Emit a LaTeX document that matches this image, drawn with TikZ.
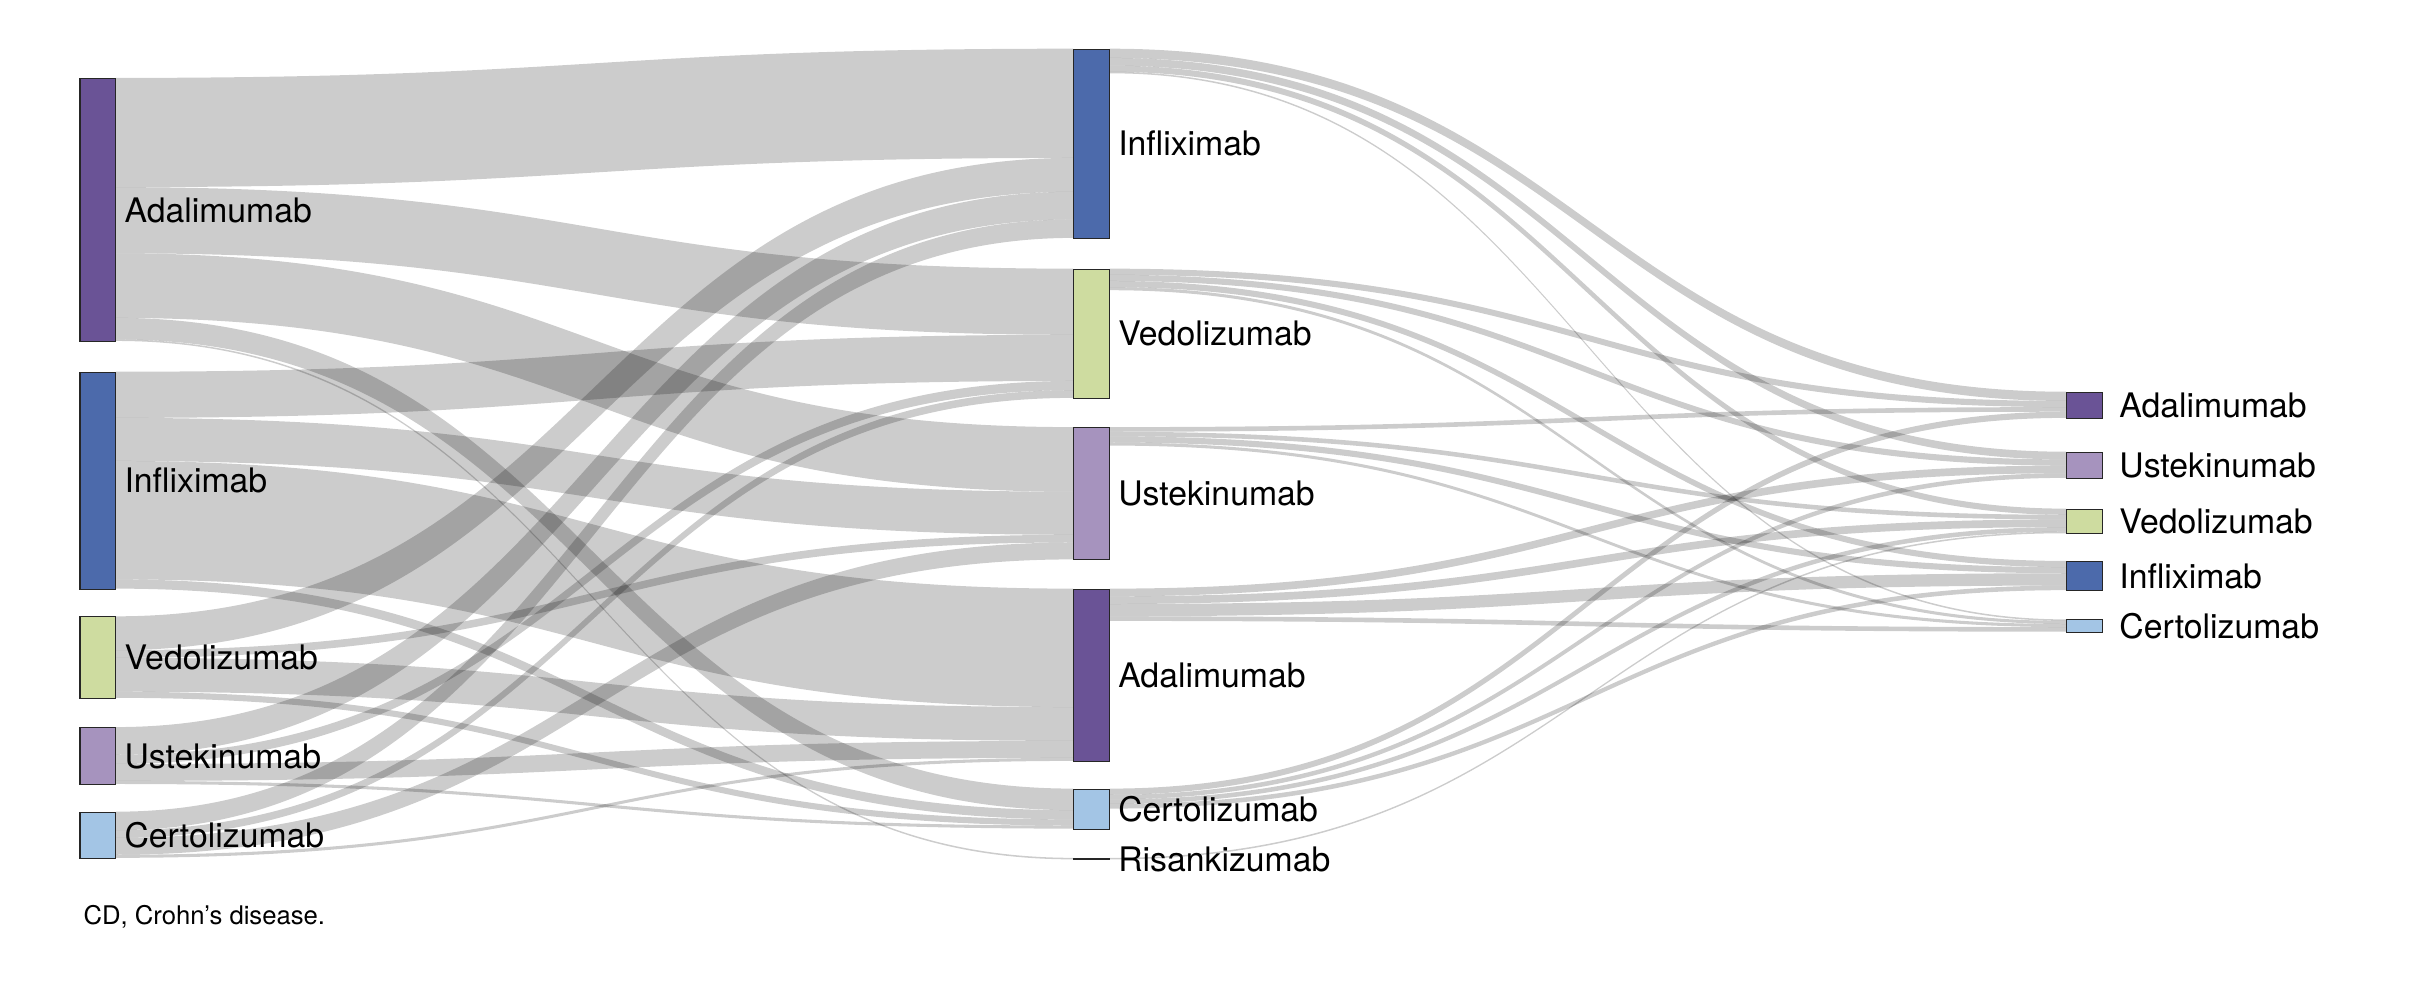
\documentclass[tikz,border=0pt]{standalone}
\usepackage{fontspec}
\setmainfont{TeX Gyre Heros}
\usetikzlibrary{positioning,calc}
\definecolor{ada}{HTML}{6A5396}
\definecolor{inf}{HTML}{4C6AAB}
\definecolor{ved}{HTML}{CEDCA0}
\definecolor{ust}{HTML}{A693BE}
\definecolor{cer}{HTML}{A3C5E5}
\pgfdeclarelayer{bg}
\pgfsetlayers{bg,main}
\def\initoff#1{\expandafter\gdef\csname out#1\endcsname{0}\expandafter\gdef\csname in#1\endcsname{0}}
\newcommand\flow[3]{%
  \pgfmathsetmacro\so{\csname out#1\endcsname}%
  \pgfmathsetmacro\ti{\csname in#2\endcsname}%
  \path (#1.north east) ++(0,-\so) coordinate (fs);
  \path (#2.north west) ++(0,-\ti) coordinate (ft);
  \begin{pgfonlayer}{bg}
  \fill[band] (fs) .. controls +(311,0) and +(-311,0) .. (ft) -- ++(0,-#3)
    .. controls +(-311,0) and +(311,0) .. ($(fs)+(0,-#3)$) -- cycle;
  \end{pgfonlayer}
  \pgfmathsetmacro\so{\so+#3}\expandafter\xdef\csname out#1\endcsname{\so}%
  \pgfmathsetmacro\ti{\ti+#3}\expandafter\xdef\csname in#2\endcsname{\ti}%
}
\begin{document}
\begin{tikzpicture}[x=0.02cm,y=0.02cm,
  bar/.style={draw=black!85,line width=.4pt,minimum width=0.46cm,inner sep=0pt},
  lab/.style={inner sep=1pt,font=\fontsize{12.5}{14}\selectfont},
  band/.style={fill=black,opacity=.2}]
\useasboundingbox (0,0) rectangle (1568,-650);
% first line
\node[bar,fill=ada,minimum height=171*0.02cm] (LAda) at (63.5,-136.5) {};
\node[bar,fill=inf,minimum height=141*0.02cm] (LInf) at (63.5,-312.5) {};
\node[bar,fill=ved,minimum height=53*0.02cm] (LVed) at (63.5,-427.5) {};
\node[bar,fill=ust,minimum height=37*0.02cm] (LUst) at (63.5,-491.5) {};
\node[bar,fill=cer,minimum height=30*0.02cm] (LCer) at (63.5,-543) {};
% second line
\node[bar,fill=inf,minimum height=123*0.02cm] (MInf) at (709.5,-93.5) {};
\node[bar,fill=ved,minimum height=84*0.02cm] (MVed) at (709.5,-217) {};
\node[bar,fill=ust,minimum height=86*0.02cm] (MUst) at (709.5,-321) {};
\node[bar,fill=ada,minimum height=112*0.02cm] (MAda) at (709.5,-439) {};
\node[bar,fill=cer,minimum height=26*0.02cm] (MCer) at (709.5,-526) {};
\node[bar,fill=black,minimum height=1*0.02cm] (MRis) at (709.5,-558.5) {};
% third line
\node[bar,fill=ada,minimum height=17*0.02cm] (RAda) at (1355,-263.5) {};
\node[bar,fill=ust,minimum height=17*0.02cm] (RUst) at (1355,-302.5) {};
\node[bar,fill=ved,minimum height=16*0.02cm] (RVed) at (1355,-339) {};
\node[bar,fill=inf,minimum height=19*0.02cm] (RInf) at (1355,-374.5) {};
\node[bar,fill=cer,minimum height=8*0.02cm] (RCer) at (1355,-407) {};
% labels
\node[lab,right=2pt of LAda] (tLAda) {Adalimumab};
\node[lab,right=2pt of LInf] (tLInf) {Infliximab};
\node[lab,right=2pt of LVed] (tLVed) {Vedolizumab};
\node[lab,right=2pt of LUst] (tLUst) {Ustekinumab};
\node[lab,right=2pt of LCer] (tLCer) {Certolizumab};
\node[lab,right=2pt of MInf] (tMInf) {Infliximab};
\node[lab,right=2pt of MVed] (tMVed) {Vedolizumab};
\node[lab,right=2pt of MUst] (tMUst) {Ustekinumab};
\node[lab,right=2pt of MAda] (tMAda) {Adalimumab};
\node[lab,right=2pt of MCer] (tMCer) {Certolizumab};
\node[lab,right=2pt of MRis] (tMRis) {Risankizumab};
\node[lab,right=5pt of RAda] (tRAda) {Adalimumab};
\node[lab,right=5pt of RUst] (tRUst) {Ustekinumab};
\node[lab,right=5pt of RVed] (tRVed) {Vedolizumab};
\node[lab,right=5pt of RInf] (tRInf) {Infliximab};
\node[lab,right=5pt of RCer] (tRCer) {Certolizumab};
\node[inner sep=0pt,anchor=west,font=\fontsize{9.5}{11}\selectfont] (note) at (54,-596) {CD, Crohn’s disease.};
\foreach \n in {LAda,LInf,LVed,LUst,LCer,MInf,MVed,MUst,MAda,MCer,MRis,RAda,RUst,RVed,RInf,RCer} {\initoff{\n}}
% first switch
\flow{LAda}{MInf}{71}\flow{LAda}{MVed}{43}\flow{LAda}{MUst}{42}\flow{LAda}{MCer}{14}\flow{LAda}{MRis}{1}
\flow{LInf}{MVed}{30}\flow{LInf}{MUst}{28}\flow{LInf}{MAda}{77}\flow{LInf}{MCer}{6}
\flow{LVed}{MInf}{22}\flow{LVed}{MUst}{5}\flow{LVed}{MAda}{22}\flow{LVed}{MCer}{4}
\flow{LUst}{MInf}{18}\flow{LUst}{MVed}{6}\flow{LUst}{MAda}{11}\flow{LUst}{MCer}{2}
\flow{LCer}{MInf}{12}\flow{LCer}{MVed}{5}\flow{LCer}{MUst}{11}\flow{LCer}{MAda}{2}
% second switch
\flow{MInf}{RAda}{6}\flow{MInf}{RUst}{5}\flow{MInf}{RVed}{4}\flow{MInf}{RCer}{1}
\flow{MVed}{RAda}{4}\flow{MVed}{RUst}{4}\flow{MVed}{RInf}{4}\flow{MVed}{RCer}{2}
\flow{MUst}{RAda}{3}\flow{MUst}{RVed}{3}\flow{MUst}{RInf}{4}\flow{MUst}{RCer}{2}
\flow{MAda}{RUst}{5}\flow{MAda}{RVed}{5}\flow{MAda}{RInf}{8}\flow{MAda}{RCer}{3}
\flow{MCer}{RAda}{4}\flow{MCer}{RUst}{3}\flow{MCer}{RVed}{3}\flow{MCer}{RInf}{3}
\flow{MRis}{RVed}{1}
\end{tikzpicture}
\end{document}
